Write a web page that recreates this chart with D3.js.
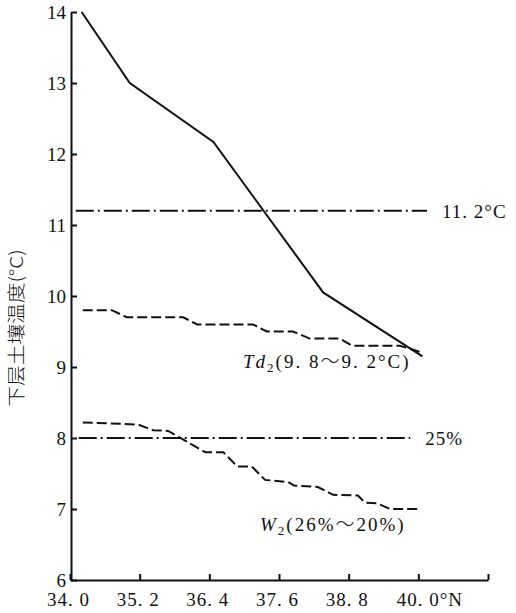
<!DOCTYPE html>
<html>
<head>
<meta charset="utf-8">
<script src="https://cdn.jsdelivr.net/npm/d3@7/dist/d3.min.js"></script>
<style>
	body { margin: 0; background: #fff; }
	text { font-family: "Liberation Serif", "DejaVu Serif", serif; fill: #111; }
	.cjk { font-family: "Noto Sans CJK SC"; font-weight: 300; }
</style>
</head>
<body>
<div id="chart"></div>
<script>
	// axis ticks
	var latTicks = [34.0, 35.2, 36.4, 37.6, 38.8, 40.0, 41.2];
	var latLabels = ["34. 0", "35. 2", "36. 4", "37. 6", "38. 8", "40. 0°N", ""];
	var tempTicks = [6, 7, 8, 9, 10, 11, 12, 13, 14];

	// solid curve
	var tdLat = [34.2, 35.03, 36.47, 38.36, 40.07];
	var tdVal = [14.0, 13.0, 12.17, 10.05, 9.15];

	// Td2 dashed
	var td2Lat = [34.22, 34.72, 34.98, 35.95, 36.19, 37.15, 37.39, 37.84, 38.13, 38.65, 38.86, 39.68, 40.08];
	var td2Val = [9.8, 9.8, 9.7, 9.7, 9.6, 9.6, 9.5, 9.5, 9.4, 9.4, 9.3, 9.3, 9.2];

	// W2 dashed
	var w2Lat = [34.22, 35.17, 35.43, 35.69, 36.33, 36.64, 36.88, 37.13, 37.36, 37.76, 37.86, 38.27, 38.53, 38.96, 39.08, 39.29, 39.51, 40.0];
	var w2Val = [8.22, 8.19, 8.11, 8.1, 7.8, 7.8, 7.6, 7.6, 7.41, 7.38, 7.33, 7.31, 7.2, 7.19, 7.09, 7.08, 7.0, 7.0];

	// dash-dot reference lines
	var refVal = [11.2, 8.0];
	var refFrom = [34.1, 34.15];
	var refTo = [40.15, 39.86];
	var refLabels = ["11. 2°C", "25%"];

	var width = 516, height = 613;
	var svg = d3.select("#chart").append("svg")
		.attr("width", width)
		.attr("height", height);

	var x = d3.scaleLinear().domain([34.0, 41.2]).range([70, 488]);
	var y = d3.scaleLinear().domain([6, 14]).range([580, 12]);

	// y axis
	var yAxis = svg.append("g")
		.attr("transform", "translate(71,0)")
		.call(d3.axisLeft(y).tickValues(tempTicks).tickSizeInner(-6).tickSizeOuter(0).tickPadding(5)
			.tickFormat(function(d) { return d; }));
	yAxis.select(".domain").attr("stroke", "#111").attr("stroke-width", 2);
	yAxis.selectAll(".tick line").attr("stroke", "#111").attr("stroke-width", 2);
	yAxis.selectAll(".tick text").style("font-size", "19px").attr("fill", "#111")
		.style("font-family", "Liberation Serif");

	// x axis
	var xAxis = svg.append("g")
		.attr("transform", "translate(0,580)")
		.call(d3.axisBottom(x).tickValues(latTicks).tickSizeInner(-6).tickSizeOuter(0).tickPadding(13)
			.tickFormat(function(d, i) { return latLabels[i]; }));
	xAxis.select(".domain").attr("stroke", "#111").attr("stroke-width", 2);
	xAxis.selectAll(".tick text").style("font-size", "19px").attr("fill", "#111")
		.style("font-family", "Liberation Serif")
		.style("letter-spacing", "1px")
		.attr("dx", function(d, i) { return i == 5 ? 11 : -2; });
	xAxis.selectAll(".tick line").attr("stroke", "#111").attr("stroke-width", 2);

	// y label
	svg.append("text")
		.attr("class", "cjk")
		.attr("transform", "translate(23,328) rotate(-90) scale(1.15,1)")
		.attr("text-anchor", "middle")
		.style("font-size", "18px")
		.text("下层土壤温度(°C)");

	var line = d3.line()
		.x(function(d) { return x(d[0]); })
		.y(function(d) { return y(d[1]); });

	// reference lines
	refVal.forEach(function(v, i) {
		svg.append("path")
			.attr("d", line([[refFrom[i], v], [refTo[i], v]]))
			.attr("fill", "none")
			.attr("stroke", "#111")
			.attr("stroke-width", 2)
			.attr("stroke-dasharray", "18,4,2,4");
		svg.append("text")
			.attr("x", x(refTo[i]) + 15)
			.attr("y", y(v) + 7)
			.style("font-size", "19px")
			.style("letter-spacing", "1px")
			.text(refLabels[i]);
	});

	// solid line
	svg.append("path")
		.attr("d", line(d3.zip(tdLat, tdVal)))
		.attr("fill", "none")
		.attr("stroke", "#111")
		.attr("stroke-width", 2);

	// dashed lines
	[[td2Lat, td2Val], [w2Lat, w2Val]].forEach(function(s) {
		svg.append("path")
			.attr("d", line(d3.zip(s[0], s[1])))
			.attr("fill", "none")
			.attr("stroke", "#111")
			.attr("stroke-width", 2)
			.attr("stroke-dasharray", "10,4");
	});

	// series labels
	function seriesLabel(px, py, name, left, right) {
		var t = svg.append("text")
			.attr("x", px)
			.attr("y", py)
			.style("font-size", "19px")
			.style("letter-spacing", "2px");
		t.append("tspan").style("font-style", "italic").text(name);
		t.append("tspan").attr("dy", 4).style("font-size", "13px").text("2");
		t.append("tspan").attr("dy", -4).text(left);
		t.append("tspan").attr("class", "cjk").text("～");
		t.append("tspan").text(right);
	}
	seriesLabel(243, 368, "Td", "(9. 8", "9. 2°C)");
	seriesLabel(260, 531, "W", "(26%", "20%)");
</script>
</body>
</html>
